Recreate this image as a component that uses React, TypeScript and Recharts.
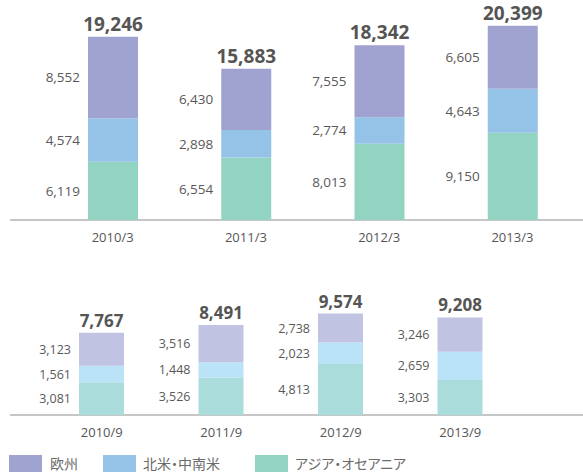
import React from "react";
import { BarChart, Bar, XAxis, YAxis, LabelList } from "recharts";

const annualCategories = ["2010/3", "2011/3", "2012/3", "2013/3"];
const annualEurope = [8552, 6430, 7555, 6605];
const annualAmericas = [4574, 2898, 2774, 4643];
const annualAsia = [6119, 6554, 8013, 9150];
const annualTotals = ["19,246", "15,883", "18,342", "20,399"];

const halfCategories = ["2010/9", "2011/9", "2012/9", "2013/9"];
const halfEurope = [3123, 3516, 2738, 3246];
const halfAmericas = [1561, 1448, 2023, 2659];
const halfAsia = [3081, 3526, 4813, 3303];
const halfTotals = ["7,767", "8,491", "9,574", "9,208"];

const legendLabels = ["欧州", "北米・中南米", "アジア・オセアニア"];

const FONT = "'Open Sans', 'Noto Sans CJK JP', sans-serif";
const TOP_COLORS = { eu: "#a0a3cf", am: "#94c3e7", as: "#93d3c2" };
const BOTTOM_COLORS = { eu: "#c1c3e3", am: "#bae3f7", as: "#aadcdc" };
const AXIS_COLOR = "#c6c6c6";

const fmt = (v: number) => v.toLocaleString("en-US");

const makeSideLabel = (size: number) => (props: any) => {
  const { x, y, height, value } = props;
  return (
    <text
      x={Number(x) - 8}
      y={Number(y) + Number(height) / 2}
      textAnchor="end"
      dominantBaseline="central"
      fontFamily={FONT}
      fontSize={size}
      fill="#595959"
    >
      {fmt(Number(value))}
    </text>
  );
};

const makeTotalLabel = (totals: string[], size: number) => (props: any) => {
  const { x, y, width, index } = props;
  return (
    <text
      x={Number(x) + Number(width) / 2}
      y={Number(y) - 6}
      textAnchor="middle"
      fontFamily={FONT}
      fontSize={size}
      fontWeight={700}
      fill="#555555"
    >
      {totals[index]}
    </text>
  );
};

const annualData = annualCategories.map((c, i) => ({
  name: c,
  eu: annualEurope[i],
  am: annualAmericas[i],
  as: annualAsia[i],
}));
const halfData = halfCategories.map((c, i) => ({
  name: c,
  eu: halfEurope[i],
  am: halfAmericas[i],
  as: halfAsia[i],
}));

export default function App() {
  return (
    <div style={{ position: "absolute", left: 0, top: 0, width: 583, height: 472, background: "#fff", fontFamily: FONT, overflow: "hidden" }}>
      <div style={{ position: "absolute", left: 10, top: 219, width: 573, height: 2, background: AXIS_COLOR }} />
      <div style={{ position: "absolute", left: 10, top: 414, width: 573, height: 2, background: AXIS_COLOR }} />
      <div style={{ position: "absolute", left: 0, top: 0 }}>
        <BarChart width={583} height={250} data={annualData} margin={{ top: 20, right: 0, left: 10, bottom: 0 }}>
          <XAxis
            dataKey="name"
            height={30}
            padding={{ left: 36, right: 4 }}
            tickLine={false}
            tickMargin={7}
            axisLine={false}
            tick={{ fill: "#555555", fontSize: 13, fontFamily: FONT }}
          />
          <YAxis hide domain={[0, 21000]} />
          <Bar dataKey="as" stackId="a" fill={TOP_COLORS.as} barSize={50} isAnimationActive={false}>
            <LabelList dataKey="as" content={makeSideLabel(13.5)} />
          </Bar>
          <Bar dataKey="am" stackId="a" fill={TOP_COLORS.am} barSize={50} isAnimationActive={false}>
            <LabelList dataKey="am" content={makeSideLabel(13.5)} />
          </Bar>
          <Bar dataKey="eu" stackId="a" fill={TOP_COLORS.eu} barSize={50} isAnimationActive={false}>
            <LabelList dataKey="eu" content={makeSideLabel(13.5)} />
            <LabelList dataKey="eu" content={makeTotalLabel(annualTotals, 19)} />
          </Bar>
        </BarChart>
      </div>
      <div style={{ position: "absolute", left: 0, top: 250 }}>
        <BarChart width={583} height={195} data={halfData} margin={{ top: 59, right: 0, left: 10, bottom: 0 }}>
          <XAxis
            dataKey="name"
            height={30}
            padding={{ left: 32, right: 63 }}
            tickLine={false}
            tickMargin={7}
            axisLine={false}
            tick={{ fill: "#555555", fontSize: 13, fontFamily: FONT }}
          />
          <YAxis hide domain={[0, 10000]} />
          <Bar dataKey="as" stackId="b" fill={BOTTOM_COLORS.as} barSize={45} isAnimationActive={false}>
            <LabelList dataKey="as" content={makeSideLabel(12.5)} />
          </Bar>
          <Bar dataKey="am" stackId="b" fill={BOTTOM_COLORS.am} barSize={45} isAnimationActive={false}>
            <LabelList dataKey="am" content={makeSideLabel(12.5)} />
          </Bar>
          <Bar dataKey="eu" stackId="b" fill={BOTTOM_COLORS.eu} barSize={45} isAnimationActive={false}>
            <LabelList dataKey="eu" content={makeSideLabel(12.5)} />
            <LabelList dataKey="eu" content={makeTotalLabel(halfTotals, 17)} />
          </Bar>
        </BarChart>
      </div>
      {[
        { left: 9, textLeft: 50, color: TOP_COLORS.eu, label: legendLabels[0] },
        { left: 103, textLeft: 143, color: TOP_COLORS.am, label: legendLabels[1] },
        { left: 255, textLeft: 295, color: TOP_COLORS.as, label: legendLabels[2] },
      ].map((item) => (
        <React.Fragment key={item.label}>
          <div style={{ position: "absolute", left: item.left, top: 455, width: 33, height: 20, background: item.color }} />
          <div
            style={{
              position: "absolute",
              left: item.textLeft,
              top: 453,
              lineHeight: "20px",
              fontSize: 14,
              color: "#6a6a6a",
              fontFamily: "'Noto Sans CJK JP', sans-serif",
              fontFeatureSettings: "'palt' 1",
              whiteSpace: "nowrap",
            }}
          >
            {item.label}
          </div>
        </React.Fragment>
      ))}
    </div>
  );
}
